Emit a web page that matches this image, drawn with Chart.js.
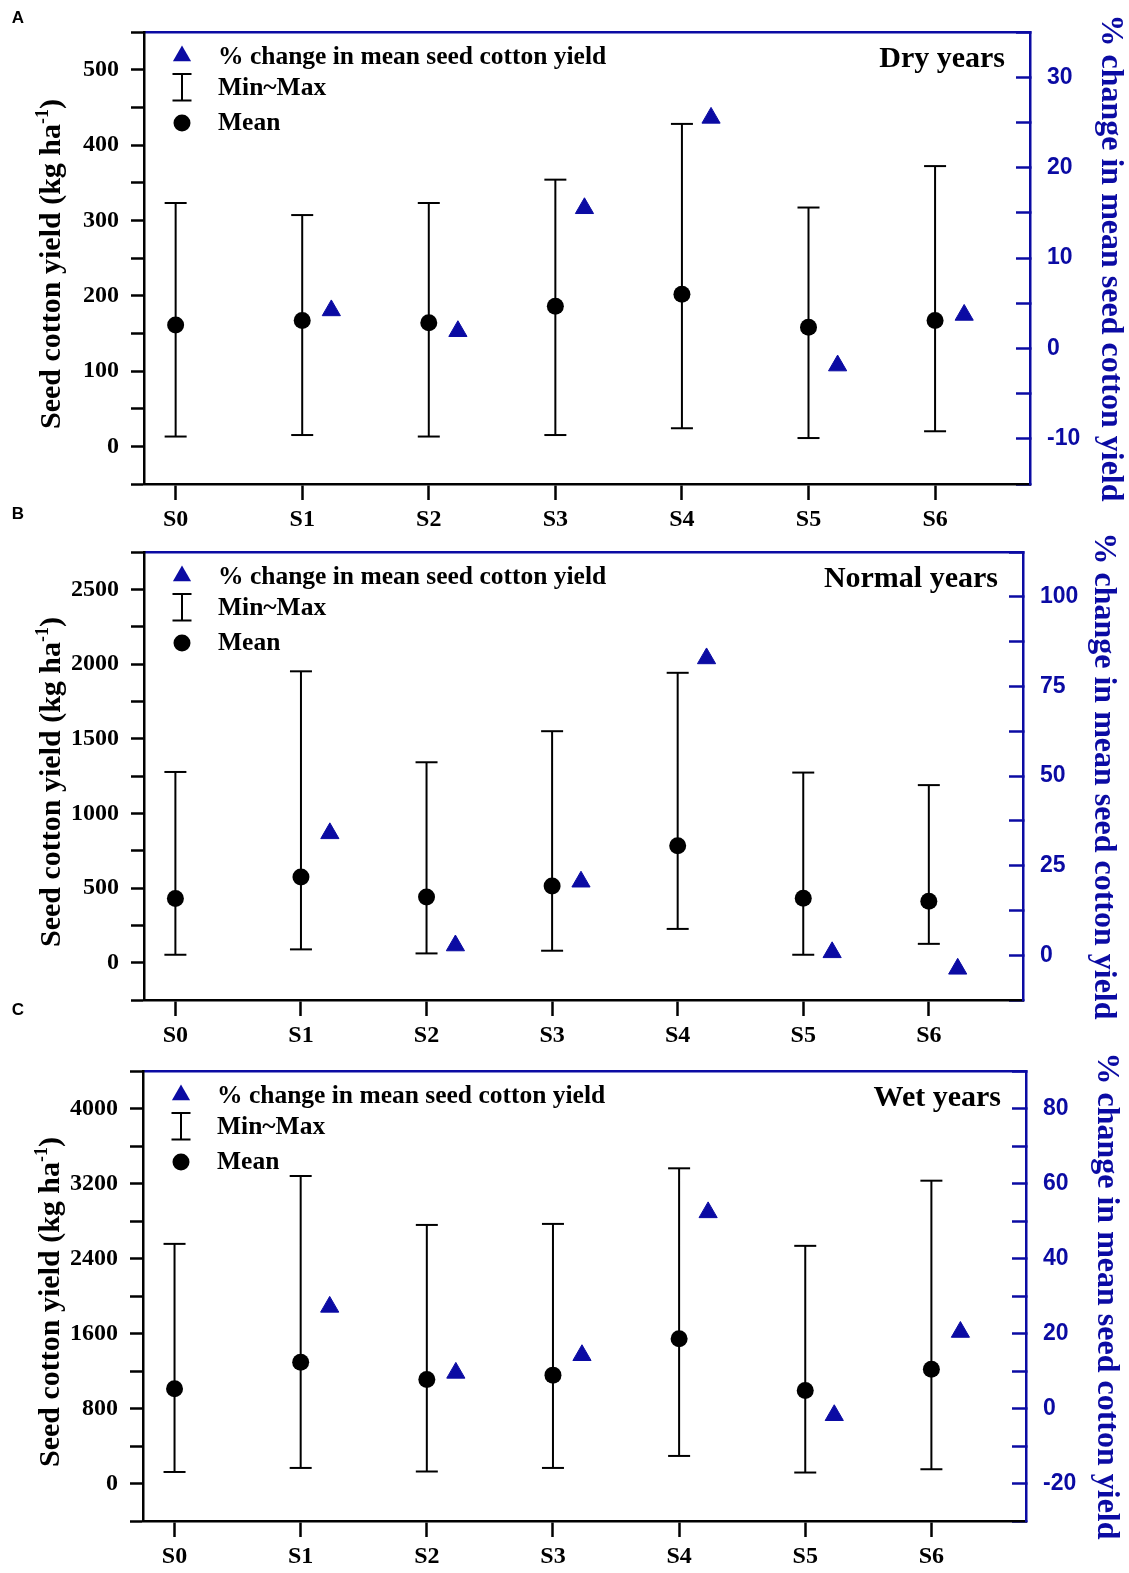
<!DOCTYPE html>
<html>
<head>
<meta charset="utf-8">
<title>Seed cotton yield</title>
<script src="https://cdn.jsdelivr.net/npm/chart.js@4"></script>
<style>
  html, body { margin: 0; padding: 0; background: #fff; }
  #figure { position: relative; width: 1129px; height: 1573px; background: #fff; }
  #figure canvas { position: absolute; left: 0; }
</style>
</head>
<body>
<div id="figure">
  <canvas id="chart-dry"    width="1129" height="548" style="top:0px"></canvas>
  <canvas id="chart-normal" width="1129" height="560" style="top:500px"></canvas>
  <canvas id="chart-wet"    width="1129" height="578" style="top:995px"></canvas>
</div>
<script>
/* ---- Data ------------------------------------------------- */
const categories = ['S0', 'S1', 'S2', 'S3', 'S4', 'S5', 'S6'];

// Dry years (kg/ha) and % change of the mean vs S0
const dryMin    = [13, 15, 13, 15, 24, 11, 20];
const dryMax    = [323, 307, 323, 354, 428, 317, 372];
const dryMean   = [161, 167, 164, 186, 202, 158, 167];
const dryChange = [null, 4.2, 1.9, 15.5, 25.5, -1.9, 3.7];

// Normal years
const normalMin    = [53, 89, 62, 80, 226, 53, 126];
const normalMax    = [1277, 1951, 1342, 1550, 1941, 1273, 1189];
const normalMean   = [430, 574, 439, 514, 783, 432, 412];
const normalChange = [null, 34.0, 2.7, 20.5, 82.8, 0.8, -3.8];

// Wet years
const wetMin    = [123, 166, 128, 166, 294, 117, 152];
const wetMax    = [2556, 3280, 2758, 2769, 3362, 2535, 3230];
const wetMean   = [1010, 1294, 1110, 1156, 1543, 993, 1219];
const wetChange = [null, 27.1, 9.5, 14.2, 52.3, -1.8, 20.4];

/* ---- Styling ---------------------------------------------- */
const BLUE  = '#0b0ba3';
const SERIF = '"Liberation Serif", "Times New Roman", serif';
const SANS  = '"Liberation Sans", Arial, sans-serif';
const TRI_SHIFT = 0.23;   // % change markers sit just right of each category

const panels = [
  {
    canvas: 'chart-dry', letter: 'A', letterY: 18, label: 'Dry years',
    min: dryMin, max: dryMax, mean: dryMean, change: dryChange,
    yMin: -50, yMax: 550, yStep: 50, yLabelStep: 100, yLabelMin: 0, yLabelMax: 500,
    rMin: -15, rMax: 35, rStep: 5, rLabelStep: 10, rLabelMin: -10, rLabelMax: 30,
    areaTop: 32, axisH: 64, leftW: 144, rightW: 99
  },
  {
    canvas: 'chart-normal', letter: 'B', letterY: 14, label: 'Normal years',
    min: normalMin, max: normalMax, mean: normalMean, change: normalChange,
    yMin: -250, yMax: 2750, yStep: 250, yLabelStep: 500, yLabelMin: 0, yLabelMax: 2500,
    rMin: -12.5, rMax: 112.5, rStep: 12.5, rLabelStep: 25, rLabelMin: 0, rLabelMax: 100,
    areaTop: 52, axisH: 60, leftW: 144, rightW: 106
  },
  {
    canvas: 'chart-wet', letter: 'C', letterY: 15, label: 'Wet years',
    min: wetMin, max: wetMax, mean: wetMean, change: wetChange,
    yMin: -400, yMax: 4400, yStep: 400, yLabelStep: 800, yLabelMin: 0, yLabelMax: 4000,
    rMin: -30, rMax: 90, rStep: 10, rLabelStep: 20, rLabelMin: -20, rLabelMax: 80,
    areaTop: 76, axisH: 52, leftW: 143, rightW: 103
  }
];

/* ---- Panel decorations: letter, legend, year label, axis titles ---- */
const panelDecor = {
  id: 'panelDecor',
  afterDraw(chart, args, opts) {
    const ctx = chart.ctx;
    const a = chart.chartArea;
    ctx.save();

    // panel letter
    ctx.fillStyle = '#000';
    ctx.font = 'bold 17px ' + SANS;
    ctx.textAlign = 'center';
    ctx.textBaseline = 'middle';
    ctx.fillText(opts.letter, 18, opts.letterY);

    // legend inside the plot
    const mx = a.left + 38;
    const r = 10.5;
    let cy = a.top + 24;
    ctx.fillStyle = BLUE;
    ctx.beginPath();
    ctx.moveTo(mx, cy - r);
    ctx.lineTo(mx + r * Math.sin(2 * Math.PI / 3), cy + r / 2);
    ctx.lineTo(mx - r * Math.sin(2 * Math.PI / 3), cy + r / 2);
    ctx.closePath();
    ctx.fill();

    ctx.strokeStyle = '#000';
    ctx.lineWidth = 2;
    ctx.beginPath();
    ctx.moveTo(mx, a.top + 42);       ctx.lineTo(mx, a.top + 68.5);
    ctx.moveTo(mx - 9.5, a.top + 42); ctx.lineTo(mx + 9.5, a.top + 42);
    ctx.moveTo(mx - 9.5, a.top + 68.5); ctx.lineTo(mx + 9.5, a.top + 68.5);
    ctx.stroke();

    ctx.fillStyle = '#000';
    ctx.beginPath();
    ctx.arc(mx, a.top + 91, 8.5, 0, Math.PI * 2);
    ctx.fill();

    ctx.font = 'bold 25.5px ' + SERIF;
    ctx.textAlign = 'left';
    ctx.fillText('% change in mean seed cotton yield', a.left + 74, a.top + 25);
    ctx.fillText('Min~Max', a.left + 74, a.top + 56);
    ctx.fillText('Mean', a.left + 74, a.top + 91);

    // year class label
    ctx.font = 'bold 30px ' + SERIF;
    ctx.textAlign = 'right';
    ctx.fillText(opts.label, a.right - 25, a.top + 27);

    // left axis title with superscript unit
    const midY = (a.top + a.bottom) / 2;
    ctx.save();
    ctx.translate(a.left - 94, midY + 6);
    ctx.rotate(-Math.PI / 2);
    const bigFont = 'bold 30px ' + SERIF;
    const supFont = 'bold 18px ' + SERIF;
    const head = 'Seed cotton yield (kg ha';
    ctx.font = bigFont;
    const wHead = ctx.measureText(head).width;
    const wTail = ctx.measureText(')').width;
    ctx.font = supFont;
    const wSup = ctx.measureText('-1').width;
    let x0 = -(wHead + wSup + wTail) / 2;
    ctx.textAlign = 'left';
    ctx.textBaseline = 'alphabetic';
    ctx.font = bigFont;
    ctx.fillText(head, x0, 10);
    ctx.font = supFont;
    ctx.fillText('-1', x0 + wHead, -2);
    ctx.font = bigFont;
    ctx.fillText(')', x0 + wHead + wSup, 10);
    ctx.restore();

    // right axis title
    ctx.save();
    ctx.translate(a.right + 80, midY);
    ctx.rotate(Math.PI / 2);
    ctx.fillStyle = BLUE;
    ctx.font = 'bold 32px ' + SERIF;
    ctx.textAlign = 'center';
    ctx.textBaseline = 'middle';
    ctx.fillText('% change in mean seed cotton yield', 0, 0);
    ctx.restore();

    ctx.restore();
  }
};

function onStep(v, step, lo, hi) {
  const k = v / step;
  return Math.abs(k - Math.round(k)) < 1e-6 && v >= lo - 1e-6 && v <= hi + 1e-6;
}

// fixed box sizes so every panel's plot area lands where it should
function fixWidth(w) {
  return s => { s.width = w; s.paddingTop = 0; s.paddingBottom = 0; };
}
function fixHeight(h) {
  return s => { s.height = h; s.paddingLeft = 0; s.paddingRight = 0; };
}

function buildPanel(p) {
  const el = document.getElementById(p.canvas);

  // whiskers: one vertical segment per category, broken by null points
  const whiskers = [];
  p.min.forEach((v, i) => {
    whiskers.push({ x: i, y: v }, { x: i, y: p.max[i] }, { x: i, y: null });
  });
  const caps  = p.min.map((v, i) => ({ x: i, y: v }))
    .concat(p.max.map((v, i) => ({ x: i, y: v })));
  const means = p.mean.map((v, i) => ({ x: i, y: v }));
  const change = [];
  p.change.forEach((v, i) => { if (v !== null) change.push({ x: i + TRI_SHIFT, y: v }); });

  return new Chart(el, {
    type: 'scatter',
    data: {
      datasets: [
        {
          type: 'line', data: whiskers, yAxisID: 'y',
          borderColor: '#000', borderWidth: 2, pointRadius: 0, spanGaps: false, fill: false, tension: 0
        },
        {
          data: caps, yAxisID: 'y',
          pointStyle: 'line', pointRadius: 11, pointHoverRadius: 11,
          pointBorderColor: '#000', pointBorderWidth: 2
        },
        {
          data: means, yAxisID: 'y',
          pointStyle: 'circle', pointRadius: 8.5, pointHoverRadius: 8.5,
          pointBackgroundColor: '#000', pointBorderColor: '#000', pointBorderWidth: 0
        },
        {
          data: change, yAxisID: 'y1',
          pointStyle: 'triangle', pointRadius: 10.5, pointHoverRadius: 10.5,
          pointBackgroundColor: BLUE, pointBorderColor: BLUE, pointBorderWidth: 1
        }
      ]
    },
    options: {
      responsive: false,
      animation: false,
      events: [],
      layout: { padding: { top: p.areaTop, left: 0, right: 0, bottom: 0 } },
      plugins: {
        legend: { display: false },
        tooltip: { enabled: false },
        panelDecor: { letter: p.letter, letterY: p.letterY, label: p.label }
      },
      scales: {
        x: {
          type: 'linear', position: 'bottom', min: -0.25, max: 6.75,
          afterBuildTicks: s => { s.ticks = categories.map((c, i) => ({ value: i })); },
          afterFit: fixHeight(p.axisH),
          ticks: {
            callback: v => categories[v],
            autoSkip: false, maxRotation: 0, padding: 5, color: '#000',
            font: { family: SERIF, weight: 'bold', size: 24 }
          },
          grid: { drawOnChartArea: false, tickLength: 16, tickWidth: 2.5, color: '#000' },
          border: { color: '#000', width: 2.5 }
        },
        xTop: {
          type: 'linear', position: 'top', min: -0.25, max: 6.75,
          afterFit: fixHeight(0),
          ticks: { display: false },
          grid: { display: false, drawTicks: false },
          border: { color: BLUE, width: 2.5 }
        },
        y: {
          type: 'linear', position: 'left', min: p.yMin, max: p.yMax,
          afterFit: fixWidth(p.leftW),
          ticks: {
            stepSize: p.yStep, autoSkip: false, padding: 12, color: '#000',
            callback: v => onStep(v, p.yLabelStep, p.yLabelMin, p.yLabelMax) ? v : '',
            font: { family: SERIF, weight: 'bold', size: 24 }
          },
          grid: { drawOnChartArea: false, tickLength: 13, tickWidth: 2.5, color: '#000' },
          border: { color: '#000', width: 2.5 }
        },
        y1: {
          type: 'linear', position: 'right', min: p.rMin, max: p.rMax,
          afterFit: fixWidth(p.rightW),
          ticks: {
            stepSize: p.rStep, autoSkip: false, padding: 31, color: BLUE,
            callback: v => onStep(v, p.rLabelStep, p.rLabelMin, p.rLabelMax) ? v : '',
            font: { family: SANS, weight: 'bold', size: 23 }
          },
          // negative length turns the ticks inward
          grid: { drawOnChartArea: false, tickLength: -14, tickWidth: 2.5, color: BLUE },
          border: { color: BLUE, width: 2.5 }
        }
      }
    },
    plugins: [panelDecor]
  });
}

panels.forEach(buildPanel);
</script>
</body>
</html>
